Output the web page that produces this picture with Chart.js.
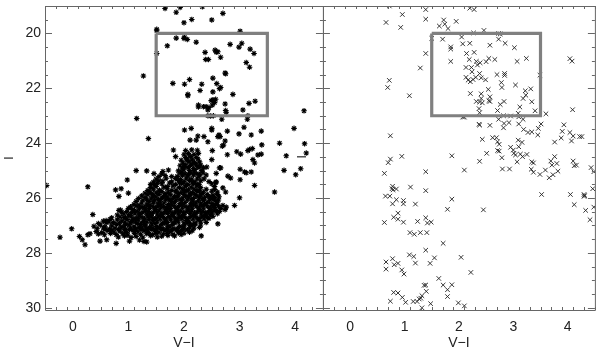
<!DOCTYPE html>
<html>
<head>
<meta charset="utf-8">
<title>V-I colour magnitude diagrams</title>
<script src="https://cdn.jsdelivr.net/npm/chart.js@4"></script>
<style>
  html, body { margin: 0; padding: 0; background: #fff; }
  canvas { display: block; }
</style>
</head>
<body>
<canvas id="cmdChart" width="600" height="349"></canvas>
<script>
const xTicks = [0, 1, 2, 3, 4];
const yTicks = [20, 22, 24, 26, 28, 30];
const boxVI = [1.5, 3.5, 3.5, 1.5, 1.5];
const boxI = [20, 20, 23, 23, 20];

// left panel, bright stars read one by one
const leftSparse = [
  [1.66,19.09],[1.93,19.05],[1.86,19.23],[2.33,19.03],[2.70,19.27],[2.00,19.61],[2.14,19.49],[2.50,19.51],
  [1.51,19.85],[1.51,19.90],[3.01,19.92],[1.86,20.17],[1.70,20.45],[2.00,20.18],[2.01,20.14],[2.06,20.22],
  [2.22,20.32],[2.83,20.40],[2.99,20.50],[3.04,20.36],[3.19,20.57],[3.26,20.73],[2.38,20.69],[2.56,20.61],
  [2.58,20.68],[2.61,20.67],[2.66,20.87],[1.51,20.73],[2.39,20.95],[2.44,20.95],[3.12,21.06],[3.18,21.23],
  [2.75,21.47],[2.74,21.44],[1.27,21.55],[2.52,21.63],[2.10,21.68],[1.80,21.82],[2.01,21.85],[2.32,21.85],
  [2.59,21.83],[2.66,21.97],[2.64,22.01],[2.29,22.08],[2.52,22.13],[2.88,22.22],[2.07,22.22],[2.07,22.27],
  [2.49,22.45],[2.52,22.42],[2.57,22.40],[2.55,22.52],[3.28,22.47],[3.17,22.55],[2.74,22.57],[2.26,22.61],
  [2.26,22.68],[2.35,22.67],[2.40,22.67],[2.45,22.70],[2.43,22.79],[2.51,22.61],[3.06,22.79],[2.75,22.81],
  [2.76,22.87],[4.16,22.82],[1.15,23.10],[2.43,23.00],[2.48,23.01],[2.53,23.00],[3.15,23.00],[3.14,23.13],
  [2.68,23.13],[3.98,23.46],[3.08,23.42],[2.50,23.46],[2.50,23.52],[2.01,23.52],[2.13,23.46],[2.78,23.56],
  [3.39,23.56],[2.99,23.66],[3.21,23.70],[1.36,23.83],[2.25,23.74],[2.36,23.76],[2.11,23.89],[2.22,23.89],
  [2.43,23.95],[2.61,23.76],[2.65,23.76],[2.63,23.70],[2.74,23.92],[2.71,24.07],[2.69,24.11],[3.23,24.20],
  [3.18,24.23],[3.15,24.27],[3.72,24.00],[3.40,24.06],[4.17,24.02],[1.81,24.25],[2.51,24.27],[2.95,24.31],
  [3.02,24.40],[2.78,24.42],[4.20,24.36],[3.39,24.40],[3.33,24.43],[3.84,24.46],[1.85,24.49],[3.24,24.60],
  [3.27,24.72],[2.50,24.60],[4.10,24.93],[3.80,24.99],[4.01,25.15],[3.01,24.95],[3.09,25.05],[3.21,25.05],
  [3.12,25.08],[2.66,24.90],[2.58,25.10],[1.14,25.00],[1.33,25.01],[1.46,25.11],[-0.47,25.54],[0.27,25.59],
  [0.98,25.34],[0.77,25.70],[0.87,25.66],[1.00,25.82],[0.83,25.94],[3.27,25.54],[3.63,25.78],[3.00,25.99],
  [2.91,26.27],[2.76,26.33],[3.01,25.33],[2.79,25.20],[2.84,25.27],[2.41,24.87],[2.58,25.41],[2.64,24.90],
  [2.70,25.63],[2.75,25.78],[2.62,26.07],[0.36,26.60],[-0.02,27.12],[-0.23,27.43],[0.12,27.40],[0.17,27.52],
  [0.22,27.70],[0.27,27.34],[0.31,27.30],[2.61,26.94],[2.31,27.38],[0.78,27.65],[1.33,27.60],[0.49,27.57],
  [0.61,27.52],[0.60,26.82],[0.67,26.78],[0.83,26.45]
];

// left panel, solid clump: rows estimated along the faint sequence
const leftClump = [
  [1.02,27.57],[1.20,27.53],[1.28,27.58],
  [0.82,27.42],[0.93,27.38],[1.05,27.44],[1.14,27.40],[1.26,27.43],[1.40,27.37],[1.52,27.42],[1.60,27.39],[1.71,27.36],[1.83,27.38],[1.95,27.33],
  [0.42,27.22],[0.52,27.26],[0.63,27.19],[0.74,27.24],[0.85,27.21],[0.97,27.25],[1.08,27.18],[1.17,27.23],[1.28,27.20],[1.36,27.26],[1.47,27.19],[1.55,27.24],[1.66,27.18],[1.75,27.22],[1.87,27.17],[1.94,27.23],[2.06,27.16],[2.15,27.19],
  [0.38,27.03],[0.50,26.98],[0.58,27.05],[0.70,27.01],[0.79,26.96],[0.90,27.04],[1.01,26.99],[1.10,27.03],[1.22,26.97],[1.31,27.02],[1.42,26.98],[1.51,27.04],[1.60,26.97],[1.71,27.01],[1.80,26.96],[1.92,27.03],[2.01,26.98],[2.12,27.00],[2.20,26.95],[2.30,26.98],
  [0.55,26.84],[0.65,26.87],[0.80,26.79],[0.88,26.84],[0.98,26.78],[1.07,26.83],[1.18,26.79],[1.27,26.85],[1.37,26.78],[1.45,26.82],[1.57,26.77],[1.66,26.83],[1.76,26.79],[1.85,26.81],[1.96,26.76],[2.05,26.82],[2.16,26.77],[2.25,26.80],[2.36,26.76],[2.45,26.74],
  [0.80,26.62],[0.92,26.58],[1.03,26.63],[1.12,26.57],[1.21,26.62],[1.33,26.59],[1.41,26.64],[1.52,26.57],[1.62,26.61],[1.70,26.56],[1.81,26.62],[1.90,26.58],[2.00,26.60],[2.11,26.56],[2.20,26.61],[2.31,26.57],[2.40,26.59],[2.50,26.55],[2.60,26.57],
  [0.86,26.44],[1.00,26.38],[1.08,26.42],[1.20,26.37],[1.30,26.43],[1.38,26.38],[1.47,26.41],[1.58,26.36],[1.68,26.42],[1.76,26.38],[1.86,26.40],[1.97,26.36],[2.07,26.41],[2.15,26.37],[2.26,26.40],[2.35,26.36],[2.46,26.39],[2.55,26.35],[2.66,26.38],[2.74,26.42],
  [1.10,26.23],[1.24,26.18],[1.33,26.22],[1.45,26.17],[1.53,26.21],[1.64,26.18],[1.72,26.23],[1.83,26.17],[1.93,26.20],[2.02,26.16],[2.12,26.21],[2.22,26.17],[2.30,26.19],[2.42,26.16],[2.50,26.20],[2.60,26.17],
  [1.18,26.02],[1.30,25.98],[1.41,26.03],[1.50,25.97],[1.60,26.01],[1.70,25.97],[1.80,26.02],[1.88,25.96],[1.98,26.00],[2.08,25.96],[2.17,26.01],[2.28,25.97],[2.37,25.99],[2.47,25.96],[2.55,25.98],[2.63,25.95],
  [1.30,25.82],[1.38,25.78],[1.50,25.81],[1.60,25.76],[1.72,25.81],[1.85,25.77],[1.95,25.80],[2.05,25.75],[2.15,25.80],[2.25,25.76],[2.35,25.79],[2.50,25.75],[2.60,25.78],
  [1.40,25.62],[1.50,25.58],[1.64,25.60],[1.80,25.56],[1.92,25.61],[2.02,25.57],[2.13,25.60],[2.23,25.56],[2.30,25.62],[2.55,25.58],
  [1.45,25.42],[1.55,25.37],[1.78,25.41],[1.90,25.36],[2.00,25.40],[2.10,25.36],[2.20,25.41],[2.30,25.37],[2.45,25.40],[2.57,25.44],
  [1.55,25.22],[1.66,25.18],[1.88,25.21],[1.97,25.17],[2.07,25.20],[2.17,25.16],[2.28,25.19],[2.40,25.16],
  [1.62,25.03],[1.72,24.98],[1.90,25.01],[2.00,24.97],[2.10,25.00],[2.20,24.96],[2.32,25.00],
  [1.93,24.82],[2.02,24.78],[2.12,24.81],[2.22,24.77],[2.30,24.80],
  [1.95,24.62],[2.05,24.58],[2.15,24.61],[2.25,24.57],
  [2.00,24.42],[2.08,24.38],[2.18,24.41],[2.26,24.37],
  [2.03,24.27],[2.14,24.24],[2.24,24.26]
];

// same clump, the rows in between, it reads as solid black in the picture
const leftClumpFill = [
  [0.46,27.31],[0.57,27.34],[0.68,27.29],[0.78,27.33],[0.90,27.30],[0.99,27.35],[1.11,27.29],[1.22,27.32],[1.33,27.30],[1.44,27.34],[1.50,27.28],[1.63,27.31],[1.70,27.29],[1.80,27.32],[1.90,27.27],[2.00,27.28],[2.10,27.24],
  [0.44,27.12],[0.55,27.09],[0.66,27.13],[0.76,27.10],[0.86,27.08],[0.95,27.13],[1.04,27.10],[1.13,27.12],[1.25,27.09],[1.34,27.13],[1.44,27.10],[1.52,27.08],[1.62,27.12],[1.70,27.09],[1.82,27.11],[1.90,27.08],[2.00,27.12],[2.10,27.08],[2.18,27.10],[2.28,27.07],
  [0.46,26.93],[0.60,26.90],[0.73,26.89],[0.84,26.92],[0.94,26.88],[1.03,26.91],[1.13,26.87],[1.23,26.92],[1.33,26.88],[1.41,26.90],[1.52,26.87],[1.61,26.92],[1.70,26.89],[1.80,26.91],[1.90,26.87],[2.00,26.90],[2.10,26.88],[2.20,26.91],[2.30,26.87],[2.40,26.89],
  [0.70,26.72],[0.85,26.69],[0.95,26.72],[1.05,26.68],[1.15,26.73],[1.25,26.70],[1.35,26.68],[1.44,26.73],[1.53,26.69],[1.63,26.71],[1.73,26.67],[1.83,26.72],[1.92,26.69],[2.02,26.71],[2.12,26.67],[2.22,26.70],[2.32,26.68],[2.42,26.71],[2.52,26.67],
  [0.88,26.52],[0.97,26.49],[1.06,26.53],[1.16,26.48],[1.26,26.52],[1.36,26.49],[1.45,26.52],[1.55,26.47],[1.65,26.51],[1.75,26.48],[1.84,26.52],[1.94,26.48],[2.04,26.50],[2.14,26.47],[2.24,26.51],[2.34,26.48],[2.44,26.50],[2.54,26.47],[2.64,26.49],
  [1.04,26.32],[1.14,26.29],[1.25,26.33],[1.35,26.28],[1.44,26.31],[1.54,26.28],[1.63,26.32],[1.73,26.28],[1.83,26.30],[1.92,26.27],[2.02,26.31],[2.12,26.28],[2.22,26.30],[2.32,26.27],[2.42,26.30],[2.52,26.27],[2.62,26.29],[2.70,26.27],
  [1.14,26.12],[1.26,26.08],[1.37,26.12],[1.47,26.08],[1.57,26.11],[1.67,26.07],[1.77,26.12],[1.86,26.08],[1.96,26.10],[2.06,26.07],[2.16,26.11],[2.26,26.08],[2.36,26.10],[2.46,26.07],[2.56,26.09],
  [1.24,25.92],[1.35,25.88],[1.45,25.91],[1.55,25.87],[1.66,25.92],[1.76,25.88],[1.90,25.90],[2.00,25.87],[2.10,25.91],[2.20,25.87],[2.30,25.90],[2.42,25.87],[2.52,25.89],[2.60,25.87],
  [1.35,25.72],[1.45,25.68],[1.56,25.71],[1.70,25.67],[1.86,25.71],[1.97,25.67],[2.08,25.70],[2.18,25.67],[2.28,25.71],[2.40,25.68],[2.55,25.69],
  [1.47,25.52],[1.60,25.48],[1.85,25.51],[1.96,25.47],[2.07,25.50],[2.17,25.47],[2.27,25.50],[2.50,25.48],
  [1.50,25.31],[1.85,25.29],[1.94,25.32],[2.04,25.28],[2.14,25.31],[2.24,25.28],[2.36,25.30],
  [1.60,25.12],[1.93,25.09],[2.02,25.12],[2.12,25.08],[2.23,25.11],[2.34,25.08],
  [1.97,24.91],[2.07,24.88],[2.17,24.92],[2.27,24.88],[2.35,24.90],
  [1.98,24.72],[2.09,24.68],[2.19,24.71],[2.28,24.68],
  [2.03,24.52],[2.12,24.49],[2.22,24.52]
];

// third pass over the clump, breaks up the rows and closes the gaps on its flank
const leftClumpExtra = [
  [0.58,27.15],[0.70,27.17],[0.82,27.14],[0.93,27.16],[1.02,27.15],[1.13,27.17],[1.23,27.14],[1.32,27.16],[1.41,27.14],[1.50,27.16],[1.60,27.14],[1.70,27.16],[1.79,27.15],[1.89,27.13],[1.98,27.15],
  [0.95,26.97],[1.06,26.86],[1.16,26.93],[1.19,27.07],[1.29,26.96],[1.38,27.07],[1.48,26.93],[1.56,27.07],[1.65,26.91],[1.75,27.05],[1.84,26.90],[1.98,27.04],[2.06,26.91],[2.16,26.98],
  [0.92,26.71],[1.00,26.62],[1.10,26.75],[1.19,26.66],[1.29,26.76],[1.39,26.65],[1.49,26.75],[1.58,26.64],[1.68,26.76],[1.78,26.65],[1.88,26.75],[1.97,26.65],[2.07,26.75],[2.17,26.64],[2.27,26.74],[2.37,26.64],[2.47,26.62],
  [1.11,26.46],[1.21,26.55],[1.31,26.47],[1.41,26.56],[1.50,26.46],[1.60,26.55],[1.70,26.46],[1.79,26.55],[1.89,26.46],[1.99,26.54],[2.09,26.46],[2.19,26.54],[2.29,26.46],[2.39,26.53],[2.49,26.44],[2.59,26.45],
  [1.19,26.26],[1.29,26.35],[1.39,26.26],[1.49,26.35],[1.58,26.25],[1.68,26.34],[1.78,26.25],[1.88,26.34],[1.97,26.24],[2.07,26.33],[2.17,26.24],[2.27,26.33],[2.37,26.23],[2.47,26.33],[2.57,26.24],
  [1.33,26.06],[1.44,25.95],[1.54,26.05],[1.63,25.94],[1.73,26.05],[1.83,25.94],[1.93,26.05],[2.03,25.93],[2.13,26.04],[2.23,25.93],[2.33,26.04],[2.43,25.93],[2.51,26.03],
  [1.42,25.84],[1.56,25.74],[1.66,25.84],[1.78,25.72],[1.90,25.84],[2.01,25.72],[2.12,25.84],[2.22,25.72],[2.32,25.84],
  [1.68,25.28],[1.74,25.45],[1.62,25.38],[1.70,25.58],[1.78,25.22],[1.52,25.46],[1.40,25.50],
  [1.92,25.44],[2.04,25.53],[2.15,25.44],[2.25,25.52],
  [1.96,25.05],[2.08,25.14],[2.18,25.05],[2.28,25.13],
  [2.00,24.85],[2.15,24.75],[2.25,24.85],[2.06,24.62]
];

const rightCrosses = [
  [0.72,19.00],[1.39,19.13],[2.20,19.08],[2.28,19.13],[0.96,19.31],[1.39,19.48],[0.66,19.60],[0.93,19.78],
  [1.72,19.51],[1.64,19.73],[1.74,19.66],[1.80,19.82],[1.95,19.56],[2.27,19.98],[2.46,19.89],[2.73,20.00],
  [2.76,20.02],[1.50,20.18],[1.70,20.21],[2.05,20.13],[2.73,20.21],[2.07,20.38],[2.20,20.36],[2.57,20.43],
  [2.85,20.36],[3.02,20.52],[1.85,20.49],[1.85,20.57],[1.39,20.73],[2.14,20.73],[2.28,20.69],[2.19,20.95],
  [1.85,21.02],[2.32,21.02],[2.34,21.15],[2.39,21.07],[2.50,21.03],[2.55,20.91],[2.66,20.95],[3.07,21.02],
  [3.24,20.91],[4.04,20.92],[4.08,21.01],[1.29,21.26],[2.13,21.24],[2.23,21.24],[2.24,21.40],[2.38,21.46],
  [2.70,21.50],[2.84,21.46],[2.84,21.53],[3.49,21.52],[2.13,21.60],[2.17,21.70],[2.21,21.76],[2.26,21.68],
  [2.31,21.60],[2.41,21.62],[2.49,21.69],[0.72,21.71],[0.69,21.97],[2.78,21.79],[2.79,21.97],[3.04,21.88],
  [2.54,22.04],[2.21,22.19],[2.41,22.20],[3.32,22.02],[3.22,22.09],[3.23,22.25],[3.18,22.37],[1.09,22.27],
  [2.57,22.31],[2.41,22.37],[2.32,22.48],[2.38,22.50],[2.43,22.53],[2.55,22.45],[2.57,22.48],[2.83,22.48],
  [2.76,22.59],[3.34,22.49],[3.12,22.68],[2.71,22.81],[3.40,22.82],[2.37,22.74],[2.38,22.89],[4.09,22.78],
  [3.60,22.93],[3.09,22.91],[2.07,23.05],[2.10,23.05],[2.73,23.13],[2.82,23.00],[2.95,23.01],[3.10,23.04],
  [3.18,23.13],[2.37,23.31],[2.38,23.34],[2.57,23.35],[2.83,23.28],[2.92,23.25],[2.82,23.44],[3.10,23.30],
  [3.51,23.30],[3.46,23.46],[3.93,23.33],[3.19,23.50],[3.27,23.61],[3.34,23.59],[3.45,23.70],[3.90,23.57],
  [4.04,23.61],[3.88,23.81],[4.10,23.74],[4.22,23.76],[4.26,23.76],[4.07,23.92],[3.76,23.96],[0.74,23.73],
  [2.43,23.86],[2.62,23.80],[2.69,23.80],[2.71,23.95],[2.74,24.04],[3.09,23.89],[3.16,23.97],[2.95,24.15],
  [3.10,24.13],[3.00,24.25],[3.01,24.37],[3.04,24.43],[3.13,24.40],[3.25,24.41],[3.17,24.49],[2.71,24.27],
  [2.74,24.29],[2.51,24.37],[2.79,24.53],[3.07,24.68],[3.34,24.68],[3.37,24.72],[0.95,24.48],[1.87,24.46],
  [0.74,24.58],[0.70,24.71],[2.38,24.66],[3.76,24.49],[3.69,24.65],[3.80,24.74],[3.71,24.80],[3.82,25.02],
  [4.10,24.65],[4.16,24.80],[4.12,24.82],[4.43,24.89],[4.48,25.04],[2.80,24.94],[2.93,24.94],[3.33,24.95],
  [3.37,25.06],[3.59,24.98],[3.49,25.14],[0.63,25.10],[1.39,25.04],[2.10,24.98],[3.66,25.26],[3.73,25.15],
  [1.11,25.60],[0.78,25.57],[0.77,25.66],[0.85,25.67],[0.79,25.70],[1.39,25.73],[4.46,25.66],[3.52,25.87],
  [4.05,25.87],[4.30,25.87],[4.30,25.94],[4.31,25.91],[0.65,25.93],[0.73,25.93],[0.85,26.06],[0.98,26.09],
  [0.98,26.21],[0.78,26.21],[1.20,26.22],[1.87,26.04],[1.79,26.41],[2.45,26.43],[4.12,26.24],[4.33,26.45],
  [4.48,26.33],[4.41,26.79],[0.88,26.55],[0.80,26.70],[0.88,26.77],[0.98,26.88],[1.39,26.72],[1.42,26.91],
  [1.49,26.88],[1.24,26.85],[0.63,26.89],[1.10,27.26],[1.18,27.32],[1.29,27.26],[1.41,27.26],[1.71,27.65],
  [1.39,27.90],[1.09,28.07],[1.17,28.13],[1.55,28.18],[2.04,28.16],[0.78,28.21],[0.66,28.33],[0.88,28.38],
  [0.81,28.43],[1.20,28.37],[1.47,28.38],[0.66,28.59],[0.95,28.62],[0.99,28.77],[2.22,28.71],[1.63,28.93],
  [1.71,29.17],[1.87,29.16],[1.79,29.34],[1.36,29.18],[1.39,29.17],[1.40,29.40],[0.80,29.44],[0.88,29.46],
  [0.96,29.62],[1.32,29.56],[1.30,29.65],[1.79,29.59],[0.74,29.76],[1.02,29.80],[1.16,29.77],[1.23,29.77],
  [1.27,29.68],[1.48,29.85],[1.99,29.82],[2.10,29.93],[1.32,30.00]
];

const toPoints = pairs => pairs.map(p => ({ x: p[0], y: p[1] }));
const boxPoints = boxVI.map((v, i) => ({ x: v, y: boxI[i] }));
const starStyle = { xAxisID: 'x1', pointStyle: 'star', pointRadius: 2.8, borderColor: '#000', borderWidth: 1.1, order: 1 };

// IDL style frame: ticks point inwards on all four sides
const idlFrame = {
  id: 'idlFrame',
  afterDatasetsDraw(chart) {
    const ctx = chart.ctx, y = chart.scales.y;
    const top = chart.chartArea.top, bottom = chart.chartArea.bottom;
    ctx.save();
    ctx.strokeStyle = '#666';
    ctx.lineWidth = 1;
    ['x1', 'x2'].forEach(id => {
      const sc = chart.scales[id];
      ctx.beginPath();
      ctx.rect(sc.left + 0.5, top + 0.5, sc.width, bottom - top);
      for (let i = -5; i <= 45; i += 2) {
        const v = i / 10, px = Math.round(sc.getPixelForValue(v)) + 0.5;
        const len = i % 10 === 0 ? 7 : 3;
        ctx.moveTo(px, bottom); ctx.lineTo(px, bottom - len);
        ctx.moveTo(px, top); ctx.lineTo(px, top + len);
      }
      for (let m = 19; m <= 30; m += 0.5) {
        const py = Math.round(y.getPixelForValue(m)) + 0.5;
        const len = m % 2 === 0 ? 7 : 3;
        ctx.moveTo(sc.left, py); ctx.lineTo(sc.left + len, py);
        ctx.moveTo(sc.right, py); ctx.lineTo(sc.right - len, py);
      }
      ctx.stroke();
    });
    // the right panel's own y title was left standing inside the left panel
    ctx.translate(chart.scales.x2.left - 20, y.getPixelForValue(24.5));
    ctx.rotate(-Math.PI / 2);
    ctx.fillStyle = '#111';
    ctx.font = '12px "Liberation Sans"';
    ctx.textAlign = 'center';
    ctx.textBaseline = 'middle';
    ctx.fillText('I', 0, 0);
    ctx.restore();
  }
};

const xAxis = (weight, title) => ({
  type: 'linear',
  axis: 'x',
  position: 'bottom',
  stack: 'vi',
  stackWeight: weight,
  min: -0.5,
  max: 4.5,
  afterBuildTicks: sc => { sc.ticks = xTicks.map(v => ({ value: v })); },
  afterFit: sc => { sc.height = 39; sc.paddingLeft = 0; sc.paddingRight = 0; },
  grid: { display: false, drawTicks: false },
  border: { display: false },
  ticks: { color: '#222', font: { family: 'Liberation Sans', size: 14 }, padding: 9, maxRotation: 0, autoSkip: false },
  title: { display: true, text: title, color: '#222', font: { family: 'Liberation Sans', size: 14 }, padding: { top: 2, bottom: -3 } }
});

new Chart(document.querySelector('#cmdChart').getContext('2d'), {
  type: 'scatter',
  data: {
    datasets: [
      { data: boxPoints, xAxisID: 'x1', showLine: true, borderColor: '#808080', borderWidth: 3.2, pointRadius: 0, order: 0 },
      { data: boxPoints, xAxisID: 'x2', showLine: true, borderColor: '#808080', borderWidth: 3.2, pointRadius: 0, order: 0 },
      { ...starStyle, data: toPoints(leftSparse) },
      { ...starStyle, data: toPoints(leftClump) },
      { ...starStyle, data: toPoints(leftClumpFill) },
      { ...starStyle, data: toPoints(leftClumpExtra) },
      { data: toPoints(rightCrosses), xAxisID: 'x2', pointStyle: 'crossRot', pointRadius: 3.2, borderColor: '#222', borderWidth: 0.9, order: 1 }
    ]
  },
  options: {
    responsive: false,
    animation: false,
    layout: { padding: { left: 0, right: 3, top: 6, bottom: 0 } },
    plugins: { legend: { display: false }, tooltip: { enabled: false } },
    scales: {
      x1: xAxis(279, 'V\u2212I'),
      x2: xAxis(273, 'V\u2212I'),
      y: {
        type: 'linear',
        reverse: true,
        min: 19,
        max: 30.08,
        afterBuildTicks: sc => { sc.ticks = yTicks.map(v => ({ value: v })); },
        afterFit: sc => { sc.width = 45; sc.paddingTop = 0; sc.paddingBottom = 0; },
        grid: { display: false, drawTicks: false },
        border: { display: false },
        ticks: { color: '#222', font: { family: 'Liberation Sans', size: 14 }, padding: 4, autoSkip: false },
        title: { display: true, text: 'I', color: '#111', font: { family: 'Liberation Sans', size: 12 }, padding: { top: 2, bottom: 0 } }
      }
    }
  },
  plugins: [idlFrame]
});
</script>
</body>
</html>
